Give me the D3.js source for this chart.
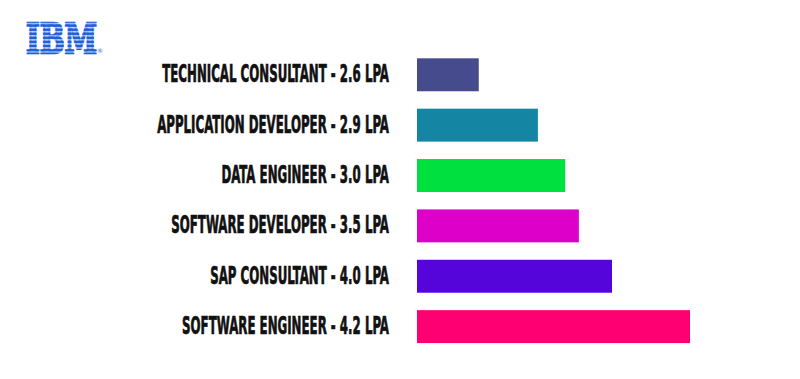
<!DOCTYPE html>
<html><head><meta charset="utf-8">
<script src="https://cdn.jsdelivr.net/npm/d3@7"></script>
<style>html,body{margin:0;padding:0;background:#fff;}svg{display:block;}</style>
</head><body>
<script>
const roles = ["TECHNICAL CONSULTANT","APPLICATION DEVELOPER","DATA ENGINEER","SOFTWARE DEVELOPER","SAP CONSULTANT","SOFTWARE ENGINEER"];
const salaries = ["2.6","2.9","3.0","3.5","4.0","4.2"];
// drawn bar lengths (relative units, longest = 4.2)
const barValues = [0.95, 1.86, 2.28, 2.49, 3.0, 4.2];
const colors = ["#454b8c","#1486a3","#00e03f","#dc00c8","#5505d9","#ff0073"];

const W = 800, H = 379;
const svg = d3.select("body").append("svg").attr("width", W).attr("height", H);

const y = d3.scaleBand().domain(roles).range([49.6, 351.8]).paddingInner(0.346).paddingOuter(0.173);
const x = d3.scaleLinear().domain([0, 4.2]).range([417, 690]);

svg.selectAll("rect.bar").data(roles).join("rect")
  .attr("class","bar")
  .attr("x", x(0))
  .attr("y", d => y(d))
  .attr("width", (d,i) => x(barValues[i]) - x(0))
  .attr("height", y.bandwidth())
  .attr("fill", (d,i) => colors[i]);

const fontFam = "'Liberation Sans Narrow','DejaVu Sans Condensed','Roboto Condensed','Arial Narrow',sans-serif";
const labels = svg.selectAll("text.lab").data(roles).join("text")
  .attr("class","lab")
  .attr("text-anchor","end")
  .attr("font-family", fontFam)
  .attr("font-weight", 700)
  .attr("font-size", 21)
  .attr("fill", "#111")
  .attr("stroke", "#111")
  .attr("stroke-width", 0.6)
  .text((d,i) => `${d} - ${salaries[i]} LPA`);
// compress horizontally to match the condensed display face
const w0 = labels.nodes()[0].getComputedTextLength();
const sx = 227 / w0;
labels.attr("transform", d => `translate(389,${y(d) + y.bandwidth()/2 + 7.5}) scale(${sx},1.15)`);

// IBM logo
const defs = svg.append("defs");
const pat = defs.append("pattern").attr("id","stripes").attr("patternUnits","userSpaceOnUse")
  .attr("x",0).attr("y",23).attr("width",10).attr("height",3.9);
pat.append("rect").attr("x",0).attr("y",0).attr("width",10).attr("height",2.7).attr("fill","#1f5fd8");
const logo = svg.append("text")
  .attr("font-family","'DejaVu Serif',serif").attr("font-weight",700)
  .attr("font-size",40).attr("fill","url(#stripes)")
  .attr("stroke","url(#stripes)").attr("stroke-width",2.5)
  .text("IBM");
const lw = logo.node().getComputedTextLength();
logo.attr("transform", `translate(26,53) scale(${71/lw},${30/29})`);
svg.append("text").attr("x",100).attr("y",53).attr("font-family","'DejaVu Sans',sans-serif")
  .attr("font-size",6).attr("fill","#1f5fd8").attr("text-anchor","middle").text("®");
</script>
</body></html>
